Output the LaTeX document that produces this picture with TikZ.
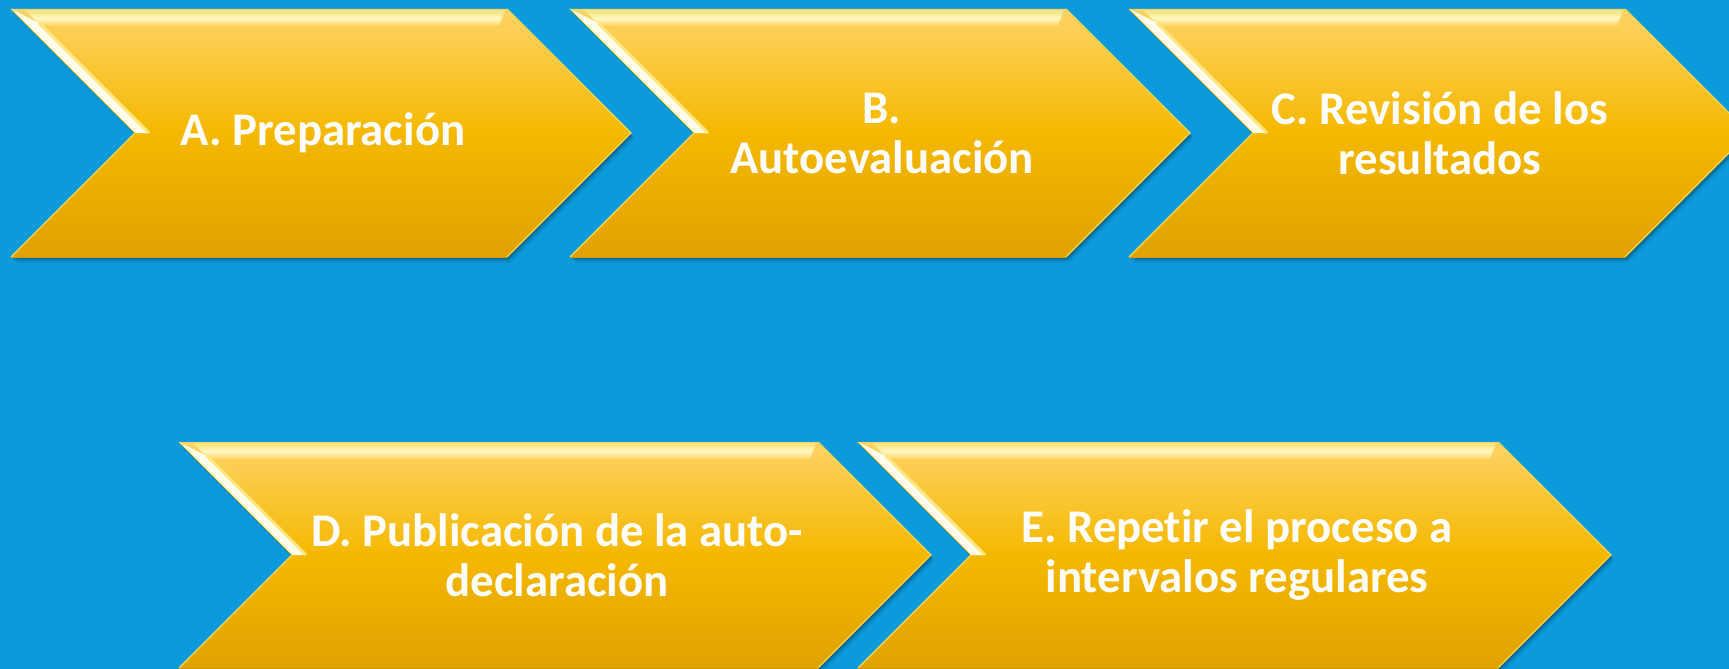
\documentclass[tikz,border=0pt]{standalone}
\usepackage{fontspec}
\setmainfont[Ligatures=NoCommon]{Carlito}
\definecolor{bg}{HTML}{0B9BDD}
\definecolor{yTop}{HTML}{FFD366}
\definecolor{yMid}{HTML}{F5B800}
\definecolor{yBot}{HTML}{E0A200}
\definecolor{yEdge}{HTML}{FFD84A}
\definecolor{yDark}{HTML}{D69800}
\definecolor{hlA}{HTML}{FFE27A}
\definecolor{hlB}{HTML}{FFF8C0}
\definecolor{bevA}{HTML}{FFFDEB}
\definecolor{bevB}{HTML}{FFE680}
\tikzset{
  lbl/.style={text=white, font=\bfseries\fontsize{46.8}{50}\selectfont, align=center, inner sep=0pt},
  chevfill/.style={top color=yTop, bottom color=yBot, middle color=yMid},
  chevedge/.style={draw=yEdge, line width=1.2pt, line join=miter},
}
% #1 x0, #2 top y, #3 width of top edge, #4 height
\newcommand\mychev[4]{%
  \pgfmathsetmacro\hh{#4/2}%
  \foreach \s/\o in {1/0.20,2.5/0.15,4/0.10,6/0.06}{%
    \fill[black,opacity=\o,shift={(0.6*\s,\s)}]
      (#1,#2) -- ({#1+#3},#2) -- ({#1+#3+\hh},{#2+\hh}) -- ({#1+#3},{#2+#4}) -- (#1,{#2+#4}) -- ({#1+\hh},{#2+\hh}) -- cycle;}
  \shade[chevfill]
      (#1,#2) -- ({#1+#3},#2) -- ({#1+#3+\hh},{#2+\hh}) -- ({#1+#3},{#2+#4}) -- (#1,{#2+#4}) -- ({#1+\hh},{#2+\hh}) -- cycle;
  \shade[top color=hlA, bottom color=yTop, middle color=hlB]
      ({#1+14},{#2+1}) -- ({#1+#3-2},{#2+1}) -- ({#1+#3-8},{#2+17}) -- ({#1+30},{#2+17}) -- cycle;
  \fill[bevA]
      (#1,#2) -- ({#1+28},{#2+14}) -- ({#1+\hh+14},{#2+\hh}) -- ({#1+\hh},{#2+\hh}) -- cycle;
  \draw[bevB, line width=3pt]
      ({#1+28},{#2+14}) -- ({#1+\hh+14},{#2+\hh});
  \draw[yEdge, line width=1pt] (#1,#2) -- ({#1+\hh},{#2+\hh});
  \draw[chevedge]
      ({#1+#3},#2) -- ({#1+#3+\hh},{#2+\hh}) -- ({#1+#3},{#2+#4})
      (#1,{#2+#4}) -- ({#1+\hh},{#2+\hh});
  \draw[yDark, line width=0.8pt] ({#1+#3},{#2+#4}) -- (#1,{#2+#4});
}
\begin{document}
\begin{tikzpicture}[x=1pt,y=-1pt]
  \useasboundingbox (0,0) rectangle (1729,669);
  \fill[bg] (0,0) rectangle (1729,669);
  \clip (0,0) rectangle (1729,669);
  \mychev{11}{9}{496}{248}
  \mychev{570}{9}{496}{248}
  \mychev{1129}{9}{496}{248}
  \mychev{179}{442}{639}{226}
  \mychev{858}{442}{640}{226}
  \node[lbl] (a) at (323,133) {A. Preparación};
  \node[lbl] (b) at (882,133) {B.\\Autoevaluación};
  \node[lbl] (c) at (1440,133) {C. Revisión de los\\resultados};
  \node[lbl] (d) at (557,555) {D. Publicación de la auto-\\declaración};
  \node[lbl] (e) at (1237,555) {E. Repetir el proceso a\\intervalos regulares};
\end{tikzpicture}
\end{document}
